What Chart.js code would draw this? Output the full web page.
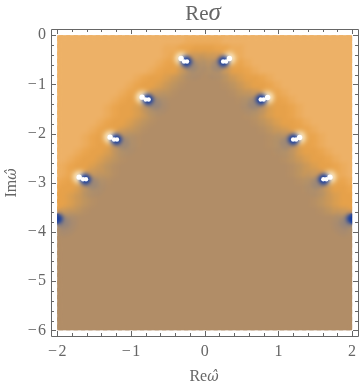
<!DOCTYPE html>
<html lang="en">
<head>
  <meta charset="UTF-8" />
  <title>Re sigma</title>
  <script src="https://cdn.jsdelivr.net/npm/chart.js"></script>
  <style>
    body { margin: 0; background: #fff; }
    canvas { display: block; }
  </style>
</head>
<body>
  <canvas id="chart" width="360" height="386"></canvas>
  <script>
    // value codes, one string per row (Im = 0, -0.15, ...), one char per Re = -2, -1.9, ...
    const palette = ['#B18D67', '#B58F65', '#BD9460', '#CB9858', '#DA9E50', '#E6A14A', '#EAA54E', '#ECAC5C', '#EDB167'];
    const reStart = -2, reStep = 0.1, imStep = 0.15;
    const cells = [
      '88888888888888888888888888888888888888888',
      '88888888888888888877777888888888888888888',
      '88888888888888877665556677888888888888888',
      '88888888888888876554345567888888888888888',
      '88888888888888765543234556788888888888888',
      '88888888888887655432123455678888888888888',
      '88888888888765543210001234556788888888888',
      '88888888887655432100000123455678888888888',
      '88888888876554321000000012345567888888888',
      '88888888765543210000000001234556788888888',
      '88888887655432100000000000123455678888888',
      '88888887655432100000000000123455678888888',
      '88888876554321000000000000012345567888888',
      '88888765543210000000000000001234556788888',
      '88887655432100000000000000000123455678888',
      '88887655432100000000000000000123455678888',
      '88876554321000000000000000000012345567888',
      '88765543210000000000000000000001234556788',
      '87655432100000000000000000000000123455678',
      '87655432100000000000000000000000123455678',
      '76554321000000000000000000000000012345567',
      '65543210000000000000000000000000001234556',
      '55432100000000000000000000000000000123455',
      '55432100000000000000000000000000000123455',
      '54321000000000000000000000000000000012345',
      '32100000000000000000000000000000000000123',
      '21000000000000000000000000000000000000012',
      '10000000000000000000000000000000000000001',
      '00000000000000000000000000000000000000000',
      '00000000000000000000000000000000000000000',
      '00000000000000000000000000000000000000000',
      '00000000000000000000000000000000000000000',
      '00000000000000000000000000000000000000000',
      '00000000000000000000000000000000000000000',
      '00000000000000000000000000000000000000000',
      '00000000000000000000000000000000000000000',
      '00000000000000000000000000000000000000000',
      '00000000000000000000000000000000000000000',
      '00000000000000000000000000000000000000000',
      '00000000000000000000000000000000000000000',
      '00000000000000000000000000000000000000000'
    ];

    // poles, the blue smear inside them, and the white spots just outside
    const poleRe = [-2, -1.62, -1.20, -0.77, -0.25, 0.257, 0.768, 1.206, 1.617, 2];
    const poleIm = [-3.73, -2.93, -2.12, -1.307, -0.535, -0.535, -1.307, -2.12, -2.93, -3.73];
    const smearRe = [-1.92, -1.53, -1.11, -0.68, -0.18, 0.18, 0.68, 1.11, 1.53, 1.92];
    const smearIm = [-3.8, -3.0, -2.19, -1.38, -0.62, -0.62, -1.38, -2.19, -3.0, -3.8];
    const spotRe = [-1.703, -1.283, -0.849, -0.32, 0.335, 0.854, 1.288, 1.70];
    const spotIm = [-2.886, -2.073, -1.26, -0.474, -0.474, -1.267, -2.08, -2.886];
    const whiteRe = [-1.65, -1.61, -1.23, -1.19, -0.80, -0.76, -0.28, -0.24, 0.25, 0.29, 0.76, 0.80, 1.20, 1.24, 1.61, 1.65];
    const whiteIm = [-2.93, -2.93, -2.12, -2.12, -1.307, -1.307, -0.535, -0.535, -0.535, -0.535, -1.307, -1.307, -2.12, -2.12, -2.93, -2.93];

    const majorRe = [-2, -1, 0, 1, 2];
    const minorRe = [-1.8, -1.6, -1.4, -1.2, -0.8, -0.6, -0.4, -0.2, 0.2, 0.4, 0.6, 0.8, 1.2, 1.4, 1.6, 1.8];
    const majorIm = [0, -1, -2, -3, -4, -5, -6];
    const minorIm = [-0.2, -0.4, -0.6, -0.8, -1.2, -1.4, -1.6, -1.8, -2.2, -2.4, -2.6, -2.8, -3.2, -3.4, -3.6, -3.8,
      -4.2, -4.4, -4.6, -4.8, -5.2, -5.4, -5.6, -5.8];

    const grey = '#666666';
    const serif = '"Liberation Serif", "DejaVu Serif", serif';

    const cellPoints = [], cellColors = [];
    cells.forEach((row, r) => {
      [...row].forEach((code, c) => {
        cellPoints.push({ x: reStart + c * reStep, y: -r * imStep });
        cellColors.push(palette[+code]);
      });
    });
    const zip = (xs, ys) => xs.map((x, i) => ({ x: x, y: ys[i] }));

    function layer(label, data, color, radius, order) {
      return { label: label, data: data, pointBackgroundColor: color, pointRadius: radius,
        pointBorderWidth: 0, order: order, clip: false };
    }

    // the density image is only soft inside Re -2..2, Im -6..0
    const plotRegion = chart => {
      const { x, y } = chart.scales;
      const l = x.getPixelForValue(-2), r = x.getPixelForValue(2);
      const t = y.getPixelForValue(0), b = y.getPixelForValue(-6);
      return { l: l, t: t, w: r - l, h: b - t };
    };

    const imagePlugin = {
      id: 'image',
      beforeDatasetsDraw(chart) {
        const p = plotRegion(chart);
        chart.ctx.save();
        chart.ctx.beginPath();
        chart.ctx.rect(p.l, p.t, p.w, p.h);
        chart.ctx.clip();
      },
      afterDatasetDraw(chart, args) {
        if (chart.data.datasets[args.index].label !== 'core') return;
        const p = plotRegion(chart);
        const ctx = chart.ctx;
        ctx.save();
        ctx.filter = 'blur(2.2px)';
        ctx.drawImage(ctx.canvas, p.l, p.t, p.w, p.h, p.l, p.t, p.w, p.h);
        ctx.restore();
      },
      afterDatasetsDraw(chart) {
        chart.ctx.restore();
      }
    };

    const framePlugin = {
      id: 'frame',
      afterDraw(chart) {
        const { ctx, chartArea: a, scales: { x, y } } = chart;
        ctx.save();
        ctx.strokeStyle = grey;
        ctx.lineWidth = 1;
        ctx.beginPath();
        ctx.rect(Math.round(a.left) + 0.5, Math.round(a.top) + 0.5, Math.round(a.right - a.left), Math.round(a.bottom - a.top));
        const tick = (vals, len) => {
          vals[0].forEach(v => {
            const p = Math.round(x.getPixelForValue(v)) + 0.5;
            ctx.moveTo(p, a.top); ctx.lineTo(p, a.top + len);
            ctx.moveTo(p, a.bottom); ctx.lineTo(p, a.bottom - len);
          });
          vals[1].forEach(v => {
            const p = Math.round(y.getPixelForValue(v)) + 0.5;
            ctx.moveTo(a.left, p); ctx.lineTo(a.left + len, p);
            ctx.moveTo(a.right, p); ctx.lineTo(a.right - len, p);
          });
        };
        tick([majorRe, majorIm], 5);
        tick([minorRe, minorIm], 3);
        ctx.stroke();
        ctx.restore();

        // titles mix roman and italic, so they go on as runs
        const runs = (parts, cx, cy, rotate) => {
          ctx.save();
          ctx.translate(cx, cy);
          if (rotate) ctx.rotate(-Math.PI / 2);
          ctx.textBaseline = 'alphabetic';
          ctx.textAlign = 'left';
          ctx.fillStyle = grey;
          let w = 0;
          parts.forEach(t => { ctx.font = t[1]; w += ctx.measureText(t[0]).width; });
          let at = -w / 2;
          parts.forEach(t => {
            ctx.font = t[1];
            ctx.fillText(t[0], at, 0);
            at += ctx.measureText(t[0]).width;
          });
          ctx.restore();
        };
        const hatted = 'italic 14px "DejaVu Serif", serif';
        runs([['Re', '21px ' + serif], ['\u03C3', 'italic 25px ' + serif]], 203, 20, false);
        runs([['Re', '16px ' + serif], ['\u03C9\u0302', hatted]], 204, 381, false);
        runs([['Im', '16px ' + serif], ['\u03C9\u0302', hatted]], 16, 183, true);
      }
    };

    const intLabel = v => (v < 0 ? '\u2212\u200A' + (-v) : '' + v);

    new Chart(document.getElementById('chart'), {
      type: 'scatter',
      data: {
        datasets: [
          layer('heat', cellPoints, cellColors, 5.8, 9),
          layer('grey wash', zip(smearRe, smearIm), 'rgba(140,135,140,0.2)', 14, 8.5),
          layer('glow wide', zip(spotRe, spotIm), 'rgba(245,222,170,0.45)', 8, 8),
          layer('glow', zip(spotRe, spotIm), 'rgba(255,245,220,0.85)', 5, 7),
          layer('smear wide', zip(smearRe, smearIm), 'rgba(100,115,155,0.3)', 7, 6),
          layer('smear', zip(poleRe, poleIm), 'rgba(40,80,170,0.65)', 6, 5),
          layer('core', zip(poleRe, poleIm), '#0E38A0', 4.8, 4),
          layer('spot', zip(spotRe, spotIm), '#FFFFFF', 2.7, 3),
          layer('white', zip(whiteRe, whiteIm), '#FFFFFF', 2.2, 2)
        ]
      },
      options: {
        responsive: false,
        animation: false,
        layout: { autoPadding: false, padding: { top: 29, right: 2, left: 0, bottom: 0 } },
        plugins: { legend: { display: false }, tooltip: { enabled: false } },
        scales: {
          x: {
            type: 'linear', min: -2.085, max: 2.08,
            afterFit: s => { s.height = 50; s.paddingLeft = 0; s.paddingRight = 0; },
            grid: { display: false, drawTicks: false },
            border: { display: false },
            ticks: { stepSize: 1, includeBounds: false, autoSkip: false, maxRotation: 0, padding: 6,
              color: grey, font: { family: serif, size: 16 }, callback: intLabel }
          },
          y: {
            type: 'linear', min: -6.115, max: 0.125,
            afterFit: s => { s.width = 51; s.paddingTop = 0; s.paddingBottom = 0; },
            grid: { display: false, drawTicks: false },
            border: { display: false },
            ticks: { stepSize: 1, includeBounds: false, autoSkip: false, padding: 5,
              color: grey, font: { family: serif, size: 16 }, callback: intLabel }
          }
        }
      },
      plugins: [imagePlugin, framePlugin]
    });
  </script>
</body>
</html>
